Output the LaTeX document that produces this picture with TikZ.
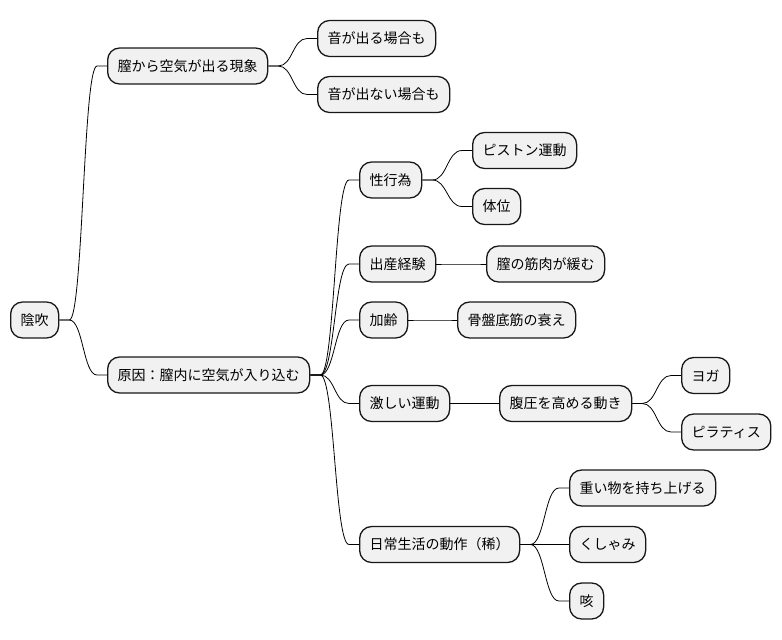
\documentclass[tikz,border=0pt]{standalone}
\usepackage{fontspec}
\newfontfamily\cjk{Noto Sans CJK JP}
\usetikzlibrary{calc}
\definecolor{boxfill}{HTML}{F1F1F1}
\definecolor{boxline}{HTML}{181818}
\tikzset{
  mm/.style={draw=boxline, fill=boxfill, line width=1.3pt, rounded corners=12pt,
    minimum height=36pt, inner xsep=10pt, inner ysep=0pt, anchor=west,
    font=\cjk\fontsize{14}{17}\selectfont, text=black},
  edge/.style={draw=black, line width=0.8pt}
}
\newcommand\mmlink[2]{%
  \draw[edge] let \p1=(#1.east), \p2=(#2.west) in
    (\p1) -- (\x1+10pt,\y1) .. controls ({(\x1+\x2)/2},\y1) and ({(\x1+\x2)/2},\y2) .. (\x2-10pt,\y2) -- (\p2);}
\begin{document}
\begin{tikzpicture}[x=1pt,y=-1pt]
\useasboundingbox (0,0) rectangle (782,640);
\node[mm] (root) at (10,320) {陰吹};
\node[mm] (a1) at (107,66) {膣から空気が出る現象};
\node[mm] (a11) at (317,38.5) {音が出る場合も};
\node[mm] (a12) at (317,94.5) {音が出ない場合も};
\node[mm] (a2) at (107,375) {原因：膣内に空気が入り込む};
\node[mm] (b1) at (359,180) {性行為};
\node[mm] (b11) at (472,150.5) {ピストン運動};
\node[mm] (b12) at (472,206.5) {体位};
\node[mm] (b2) at (359,264) {出産経験};
\node[mm] (b21) at (486,264) {膣の筋肉が緩む};
\node[mm] (b3) at (359,320) {加齢};
\node[mm] (b31) at (457,320) {骨盤底筋の衰え};
\node[mm] (b4) at (359,403.5) {激しい運動};
\node[mm] (b41) at (499,403.5) {腹圧を高める動き};
\node[mm] (b411) at (681,375.5) {ヨガ};
\node[mm] (b412) at (681,432) {ピラティス};
\node[mm] (b5) at (359,544.5) {日常生活の動作（稀）};
\node[mm] (b51) at (569,488) {重い物を持ち上げる};
\node[mm] (b52) at (569,544.5) {くしゃみ};
\node[mm] (b53) at (569,601) {咳};
\mmlink{root}{a1}
\mmlink{root}{a2}
\mmlink{a1}{a11}
\mmlink{a1}{a12}
\mmlink{a2}{b1}
\mmlink{a2}{b2}
\mmlink{a2}{b3}
\mmlink{a2}{b4}
\mmlink{a2}{b5}
\mmlink{b1}{b11}
\mmlink{b1}{b12}
\mmlink{b2}{b21}
\mmlink{b3}{b31}
\mmlink{b4}{b41}
\mmlink{b41}{b411}
\mmlink{b41}{b412}
\mmlink{b5}{b51}
\mmlink{b5}{b52}
\mmlink{b5}{b53}
\end{tikzpicture}
\end{document}
